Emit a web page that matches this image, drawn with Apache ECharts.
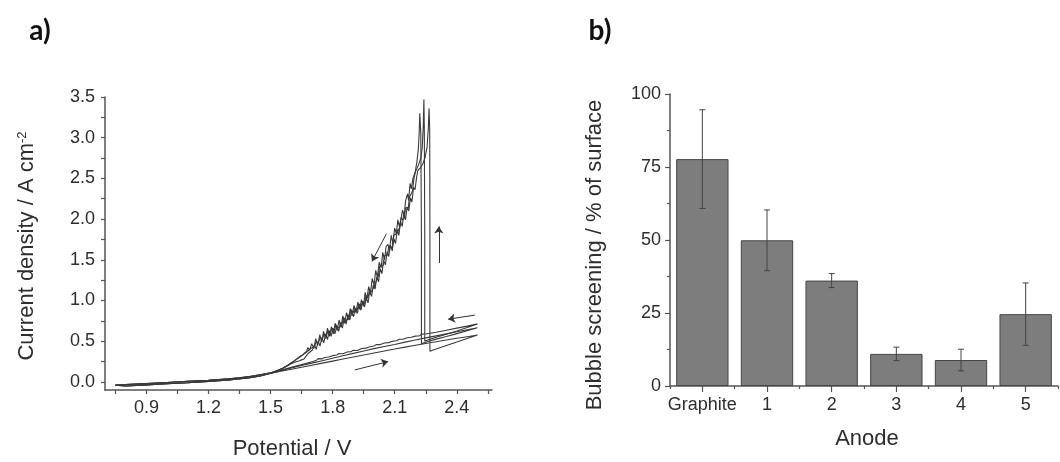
<!DOCTYPE html>
<html>
<head>
<meta charset="utf-8">
<script src="https://cdn.jsdelivr.net/npm/echarts@6/dist/echarts.min.js"></script>
<style>
  html, body { margin: 0; padding: 0; background: #ffffff; }
  #chart { width: 1060px; height: 462px; }
</style>
</head>
<body>
<div id="chart"></div>
<script>
// ---------- a) cyclic voltammetry: [potential / V, current density / A cm-2] ----------
// low-potential part shared by every scan (forward, then return)
const lowForward = [[0.75,-0.04],[0.75,-0.055],[0.80,-0.05],[0.90,-0.037],[1.00,-0.024],[1.10,-0.01],[1.20,0.006],[1.30,0.024],[1.40,0.05],[1.45,0.072]];
const lowReturn = [[1.45,0.088],[1.40,0.065],[1.35,0.049],[1.30,0.037],[1.20,0.02],[1.10,0.007],[1.00,-0.007],[0.90,-0.02],[0.80,-0.032],[0.75,-0.038]];

// cycle 1
const forward1 = [[1.50,0.108],[1.55,0.142],[1.60,0.178],[1.65,0.212],[1.70,0.248],[1.72,0.262],[1.73,0.285],[1.75,0.282],[1.76,0.30],[1.78,0.305],[1.80,0.322],[1.82,0.33],[1.83,0.348],[1.85,0.345],[1.87,0.366],[1.89,0.372],[1.90,0.388],[1.92,0.386],[1.94,0.41],[1.96,0.414],[1.98,0.432],[2.00,0.44],[2.01,0.458],[2.03,0.458],[2.05,0.478],[2.07,0.482],[2.09,0.50],[2.11,0.506],[2.12,0.524],[2.14,0.524],[2.16,0.542],[2.18,0.548],[2.20,0.562],[2.22,0.566],[2.23,0.586],[2.25,0.588],[2.27,0.598],[2.30,0.61],[2.35,0.635],[2.40,0.66],[2.45,0.685],[2.50,0.712]];
const reverse1 = [[2.50,0.712],[2.45,0.668],[2.40,0.625],[2.35,0.585],[2.30,0.548],[2.245,0.502],[2.245,1.8],[2.243,3.1],[2.241,3.47],[2.238,3.15],[2.233,2.88],[2.226,2.75],[2.214,2.66],
  [2.200,2.58],[2.193,2.50],[2.186,2.35],[2.190,2.33],[2.181,2.32],[2.170,2.26],[2.166,2.14],[2.158,2.13],[2.152,2.14],[2.147,2.02],[2.153,2.01],[2.139,1.99],[2.131,2.02],[2.124,1.90],[2.117,1.92],[2.110,1.82],[2.114,1.80],[2.103,1.81],[2.095,1.80],[2.088,1.65],[2.094,1.64],[2.080,1.66],[2.071,1.67],[2.066,1.56],[2.058,1.57],[2.050,1.55],[2.044,1.43],[2.050,1.42],[2.036,1.43],[2.027,1.42],[2.020,1.29],[2.012,1.30],[2.003,1.19],[2.008,1.18],[1.996,1.21],[1.987,1.10],[1.979,1.13],[1.970,1.03],[1.975,1.02],[1.962,1.06],[1.954,0.96],[1.945,0.99],[1.936,0.92],[1.942,0.91],[1.927,0.96],[1.918,0.88],[1.906,0.90],[1.899,0.85],[1.904,0.84],[1.889,0.89],[1.880,0.80],[1.872,0.82],[1.862,0.74],[1.868,0.73],[1.853,0.79],[1.844,0.70],[1.835,0.72],[1.826,0.66],[1.832,0.65],[1.816,0.70],[1.807,0.63],[1.796,0.66],[1.788,0.59],[1.793,0.58],[1.778,0.63],[1.769,0.56],[1.758,0.59],[1.750,0.52],[1.755,0.51],[1.740,0.55],[1.731,0.48],[1.720,0.49],[1.712,0.43],[1.717,0.42],[1.703,0.45],[1.693,0.41],[1.684,0.43],[1.676,0.37],[1.666,0.36],[1.656,0.33],[1.645,0.32],[1.635,0.30],[1.625,0.28],[1.612,0.255],[1.600,0.235],[1.58,0.20],[1.56,0.17],[1.54,0.148],[1.52,0.128],[1.50,0.112]];

// cycle 2
const forward2 = [[1.50,0.105],[1.55,0.138],[1.60,0.17],[1.65,0.2],[1.70,0.23],[1.75,0.26],[1.80,0.29],[1.85,0.32],[1.90,0.35],[1.95,0.38],[2.00,0.408],[2.05,0.435],[2.10,0.46],[2.15,0.488],[2.20,0.515],[2.25,0.54],[2.30,0.565],[2.35,0.59],[2.40,0.615],[2.45,0.64],[2.50,0.665]];
const reverse2 = [[2.50,0.665],[2.45,0.628],[2.40,0.593],[2.35,0.558],[2.30,0.525],[2.26,0.495],[2.229,0.47],[2.229,1.8],[2.226,3.05],[2.221,3.30],[2.218,3.05],[2.214,2.86],[2.207,2.70],
  [2.199,2.58],[2.188,2.50],[2.180,2.37],[2.174,2.44],[2.167,2.23],[2.162,2.31],[2.152,2.22],[2.146,2.04],[2.151,2.03],[2.138,2.11],[2.130,2.09],[2.123,1.90],[2.115,1.99],[2.108,1.82],[2.113,1.81],[2.100,1.89],[2.091,1.70],[2.083,1.80],[2.075,1.62],[2.080,1.61],[2.067,1.69],[2.058,1.66],[2.051,1.50],[2.042,1.59],[2.034,1.40],[2.039,1.39],[2.025,1.47],[2.016,1.29],[2.008,1.37],[2.000,1.19],[2.005,1.18],[1.991,1.27],[1.983,1.10],[1.974,1.17],[1.965,1.01],[1.971,1.00],[1.957,1.10],[1.949,0.93],[1.939,1.01],[1.931,0.89],[1.936,0.88],[1.922,0.98],[1.912,0.85],[1.903,0.94],[1.894,0.81],[1.899,0.80],[1.885,0.90],[1.876,0.76],[1.867,0.85],[1.858,0.72],[1.863,0.71],[1.849,0.81],[1.840,0.67],[1.831,0.76],[1.822,0.63],[1.827,0.62],[1.812,0.72],[1.803,0.59],[1.794,0.68],[1.785,0.56],[1.790,0.55],[1.775,0.66],[1.766,0.53],[1.756,0.62],[1.747,0.49],[1.752,0.48],[1.738,0.58],[1.728,0.45],[1.718,0.53],[1.709,0.41],[1.714,0.40],[1.699,0.47],[1.689,0.39],[1.680,0.42],[1.672,0.36],[1.662,0.345],[1.650,0.32],[1.638,0.30],[1.626,0.278],[1.612,0.253],[1.600,0.232],[1.58,0.198],[1.56,0.168],[1.54,0.146],[1.52,0.126],[1.50,0.11]];

// cycle 3
const forward3 = [[1.50,0.102],[1.55,0.13],[1.60,0.155],[1.65,0.18],[1.70,0.205],[1.75,0.23],[1.80,0.255],[1.85,0.28],[1.90,0.305],[1.95,0.33],[2.00,0.355],[2.05,0.38],[2.10,0.403],[2.15,0.427],[2.20,0.45],[2.25,0.472],[2.30,0.493],[2.35,0.514],[2.40,0.535],[2.45,0.555],[2.50,0.575]];
const reverse3 = [[2.50,0.575],[2.45,0.533],[2.40,0.49],[2.35,0.448],[2.30,0.405],[2.27,0.375],[2.27,1.8],[2.269,3.1],[2.266,3.36],[2.262,3.1],[2.256,2.88],[2.247,2.76],[2.236,2.68],[2.224,2.63],
  [2.212,2.60],[2.206,2.52],[2.198,2.36],[2.203,2.35],[2.191,2.39],[2.183,2.21],[2.176,2.26],[2.168,2.10],[2.173,2.09],[2.160,2.15],[2.152,1.99],[2.144,2.07],[2.136,1.91],[2.141,1.90],[2.128,1.97],[2.120,1.80],[2.112,1.87],[2.104,1.70],[2.109,1.69],[2.096,1.76],[2.088,1.61],[2.079,1.68],[2.071,1.54],[2.076,1.53],[2.063,1.60],[2.055,1.44],[2.046,1.49],[2.038,1.33],[2.043,1.32],[2.030,1.39],[2.022,1.23],[2.013,1.29],[2.005,1.14],[2.010,1.13],[1.996,1.19],[1.988,1.05],[1.979,1.11],[1.971,0.97],[1.976,0.96],[1.962,1.03],[1.954,0.92],[1.945,0.99],[1.937,0.88],[1.942,0.87],[1.928,0.95],[1.919,0.84],[1.910,0.91],[1.901,0.80],[1.906,0.79],[1.892,0.87],[1.883,0.76],[1.874,0.83],[1.865,0.71],[1.870,0.70],[1.856,0.78],[1.847,0.66],[1.838,0.73],[1.829,0.62],[1.834,0.61],[1.820,0.69],[1.811,0.59],[1.802,0.66],[1.793,0.56],[1.798,0.55],[1.784,0.63],[1.775,0.52],[1.766,0.59],[1.757,0.48],[1.762,0.47],[1.748,0.54],[1.739,0.44],[1.730,0.50],[1.721,0.40],[1.726,0.39],[1.712,0.45],[1.702,0.39],[1.692,0.37],[1.680,0.345],[1.670,0.31],[1.673,0.29],[1.661,0.28],[1.650,0.27],[1.640,0.26],[1.628,0.25],[1.614,0.237],[1.600,0.222],[1.58,0.195],[1.56,0.166],[1.54,0.144],[1.52,0.124],[1.50,0.108]];

// scan-direction arrows: [start, end] in potential / current density
const scanArrows = [
  [[2.06, 1.82], [1.99, 1.48]],
  [[2.313, 1.46], [2.313, 1.91]],
  [[1.907, 0.147], [2.068, 0.249]],
  [[2.487, 0.82], [2.358, 0.77]]
];

const potentialLabels = [0.9, 1.2, 1.5, 1.8, 2.1, 2.4];
const potentialTicks = [0.75, 0.9, 1.05, 1.2, 1.35, 1.5, 1.65, 1.8, 1.95, 2.1, 2.25, 2.4, 2.55];
const currentLabels = [0, 0.5, 1.0, 1.5, 2.0, 2.5, 3.0, 3.5];
const currentTicks = [0, 0.25, 0.5, 0.75, 1.0, 1.25, 1.5, 1.75, 2.0, 2.25, 2.5, 2.75, 3.0, 3.25, 3.5];

// ---------- b) bubble screening per anode ----------
const anodes = ['Graphite', '1', '2', '3', '4', '5'];
const screening = [77.7, 49.9, 36.1, 11.0, 8.9, 24.6];
const screeningError = [16.9, 10.4, 2.4, 2.3, 3.7, 10.7];

const cycles = [
  lowForward.concat(forward1, reverse1, lowReturn),
  lowForward.concat(forward2, reverse2, lowReturn),
  lowForward.concat(forward3, reverse3, lowReturn)
];

const FONT = "'Liberation Sans', Arial, sans-serif";
const AXIS_COLOR = '#555555';
const TEXT_COLOR = '#2e2e2e';
const axisLineStyle = { color: AXIS_COLOR, width: 1.5 };
const tickLineStyle = { color: AXIS_COLOR, width: 1.2 };
const labelStyle = { fontFamily: FONT, fontSize: 18, color: TEXT_COLOR };

const chart = echarts.init(document.getElementById('chart'), null, { renderer: 'canvas' });

const cvSeries = cycles.map((pts, i) => ({
  type: 'line',
  name: 'cycle ' + (i + 1),
  xAxisIndex: 0,
  yAxisIndex: 0,
  data: pts,
  showSymbol: false,
  symbol: 'none',
  smooth: false,
  animation: false,
  lineStyle: { color: '#3a3a3a', width: 1.1 },
  z: 3
}));

const option = {
  animation: false,
  backgroundColor: '#ffffff',
  grid: [
    { left: 105, top: 97, width: 387, height: 293 },
    { left: 670, top: 94, width: 388, height: 292 }
  ],
  xAxis: [
    {
      type: 'value', gridIndex: 0, min: 0.7, max: 2.57,
      axisLine: { show: true, onZero: false, lineStyle: axisLineStyle },
      axisTick: { show: true, customValues: potentialTicks, length: 4, lineStyle: tickLineStyle },
      axisLabel: Object.assign({ customValues: potentialLabels, margin: 9, formatter: v => v.toFixed(1) }, labelStyle),
      splitLine: { show: false }
    },
    {
      type: 'category', gridIndex: 1, data: anodes,
      axisLine: { show: true, lineStyle: axisLineStyle },
      axisTick: { show: true, alignWithLabel: true, length: 6, lineStyle: tickLineStyle },
      axisLabel: Object.assign({ margin: 10, interval: 0 }, labelStyle),
      splitLine: { show: false }
    },
    {
      type: 'category', gridIndex: 1, data: anodes, position: 'bottom',
      axisLine: { show: false },
      axisTick: { show: true, alignWithLabel: false, length: 3, lineStyle: tickLineStyle },
      axisLabel: { show: false },
      splitLine: { show: false }
    }
  ],
  yAxis: [
    {
      type: 'value', gridIndex: 0, min: -0.1, max: 3.5,
      axisLine: { show: true, onZero: false, lineStyle: axisLineStyle },
      axisTick: { show: true, customValues: currentTicks, length: 4, lineStyle: tickLineStyle },
      axisLabel: Object.assign({ customValues: currentLabels, margin: 10, formatter: v => v.toFixed(1) }, labelStyle),
      splitLine: { show: false }
    },
    {
      type: 'value', gridIndex: 1, min: 0, max: 100, interval: 25,
      axisLine: { show: true, lineStyle: axisLineStyle },
      axisTick: { show: true, length: 5, lineStyle: tickLineStyle },
      minorTick: { show: true, splitNumber: 2, length: 3, lineStyle: tickLineStyle },
      axisLabel: Object.assign({ margin: 9 }, labelStyle),
      splitLine: { show: false }
    }
  ],
  series: cvSeries.concat([
    {
      type: 'lines',
      coordinateSystem: 'cartesian2d',
      xAxisIndex: 0, yAxisIndex: 0,
      symbol: ['none', 'arrow'],
      symbolSize: 7,
      lineStyle: { color: '#333333', width: 1, curveness: 0, opacity: 1 },
      data: scanArrows.map(c => ({ coords: c })),
      z: 4
    },
    {
      type: 'bar',
      xAxisIndex: 1, yAxisIndex: 1,
      data: screening,
      barWidth: '81%',
      itemStyle: { color: '#7d7d7d', borderColor: '#454545', borderWidth: 1 },
      z: 2
    },
    {
      type: 'custom',
      xAxisIndex: 1, yAxisIndex: 1,
      data: screening.map((v, i) => [i, v - screeningError[i], v + screeningError[i]]),
      encode: { x: 0, y: [1, 2] },
      z: 5,
      renderItem: function (params, api) {
        const idx = api.value(0);
        const lo = api.coord([idx, api.value(1)]);
        const hi = api.coord([idx, api.value(2)]);
        const cap = 3;
        const st = { stroke: '#444444', lineWidth: 1 };
        return {
          type: 'group',
          children: [
            { type: 'line', shape: { x1: lo[0], y1: lo[1], x2: hi[0], y2: hi[1] }, style: st },
            { type: 'line', shape: { x1: lo[0] - cap, y1: lo[1], x2: lo[0] + cap, y2: lo[1] }, style: st },
            { type: 'line', shape: { x1: hi[0] - cap, y1: hi[1], x2: hi[0] + cap, y2: hi[1] }, style: st }
          ]
        };
      }
    }
  ]),
  graphic: [
    { type: 'text', x: 40, y: 31, style: { text: 'a)', font: "bold 28px Lato, 'Open Sans', sans-serif", fill: '#111111', align: 'center', verticalAlign: 'middle' } },
    { type: 'text', x: 600, y: 31, style: { text: 'b)', font: "bold 28px Lato, 'Open Sans', sans-serif", fill: '#111111', align: 'center', verticalAlign: 'middle' } },
    {
      type: 'text', x: 27, y: 246, rotation: Math.PI / 2,
      style: {
        text: 'Current density / A cm{sup|-2}',
        font: "22px 'Liberation Sans', Arial, sans-serif", fill: TEXT_COLOR,
        align: 'center', verticalAlign: 'middle',
        rich: { sup: { fontSize: 13, fontFamily: FONT, verticalAlign: 'top', fill: TEXT_COLOR } }
      }
    },
    { type: 'text', x: 292, y: 449, style: { text: 'Potential / V', font: "22px 'Liberation Sans', Arial, sans-serif", fill: TEXT_COLOR, align: 'center', verticalAlign: 'middle' } },
    { type: 'text', x: 595, y: 255, rotation: Math.PI / 2, style: { text: 'Bubble screening / % of surface', font: "22px 'Liberation Sans', Arial, sans-serif", fill: TEXT_COLOR, align: 'center', verticalAlign: 'middle' } },
    { type: 'text', x: 867, y: 439, style: { text: 'Anode', font: "22px 'Liberation Sans', Arial, sans-serif", fill: TEXT_COLOR, align: 'center', verticalAlign: 'middle' } }
  ]
};

chart.setOption(option);
</script>
</body>
</html>
